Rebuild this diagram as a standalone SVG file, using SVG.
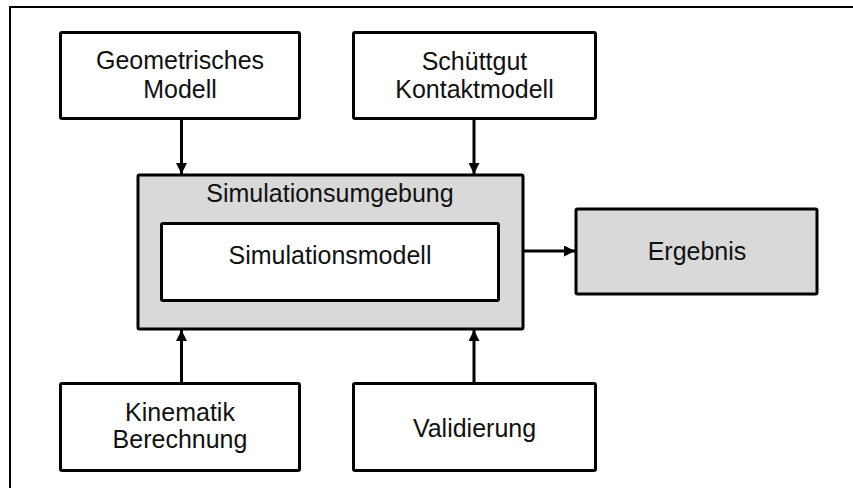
<svg xmlns="http://www.w3.org/2000/svg" width="853" height="488" viewBox="0 0 853 488">
<defs>
<marker id="ah" markerUnits="userSpaceOnUse" markerWidth="11" markerHeight="11" refX="11" refY="5.5" orient="auto">
<path d="M0,0 L11,5.5 L0,11 z" fill="#000"/>
</marker>
<style>
.box{fill:#fff;stroke:#000;stroke-width:3}
.gray{fill:#d9d9d9;stroke:#000;stroke-width:3}
.t{font-family:"Liberation Sans",Arial,sans-serif;font-size:25px;fill:#111;text-anchor:middle}
.c{stroke:#000;stroke-width:3;fill:none;marker-end:url(#ah)}
</style>
</defs>
<rect width="853" height="488" fill="#fff"/>
<path d="M853,7 H10 V488" fill="none" stroke="#000" stroke-width="2"/>
<g id="geometrisches">
<rect class="box" x="60.5" y="32.5" width="239" height="86" rx="1.5"/>
<text class="t" x="180" y="69">Geometrisches</text>
<text class="t" x="180" y="98">Modell</text>
</g>
<g id="schuettgut">
<rect class="box" x="353.5" y="32.5" width="242" height="86" rx="1.5"/>
<text class="t" x="474.5" y="70">Schüttgut</text>
<text class="t" x="474.5" y="98">Kontaktmodell</text>
</g>
<g id="umgebung">
<rect class="gray" x="138" y="175" width="385" height="154" rx="1.5"/>
<text class="t" x="330" y="202">Simulationsumgebung</text>
</g>
<g id="modell">
<rect class="box" x="161.5" y="223.5" width="337" height="77" rx="1.5"/>
<text class="t" x="330" y="264">Simulationsmodell</text>
</g>
<g id="ergebnis">
<rect class="gray" x="576" y="209" width="241" height="85" rx="1.5"/>
<text class="t" x="697" y="260">Ergebnis</text>
</g>
<g id="kinematik">
<rect class="box" x="60.5" y="383.5" width="239" height="87" rx="1.5"/>
<text class="t" x="180" y="420.5">Kinematik</text>
<text class="t" x="180" y="448">Berechnung</text>
</g>
<g id="validierung">
<rect class="box" x="353.5" y="383.5" width="242" height="87" rx="1.5"/>
<text class="t" x="474.5" y="436.5">Validierung</text>
</g>
<g id="connectors">
<line class="c" x1="181.5" y1="119" x2="181.5" y2="174"/>
<line class="c" x1="474" y1="119" x2="474" y2="174"/>
<line class="c" x1="181.5" y1="383" x2="181.5" y2="330"/>
<line class="c" x1="474" y1="383" x2="474" y2="330"/>
<line class="c" x1="524" y1="251" x2="575" y2="251"/>
</g>
</svg>
